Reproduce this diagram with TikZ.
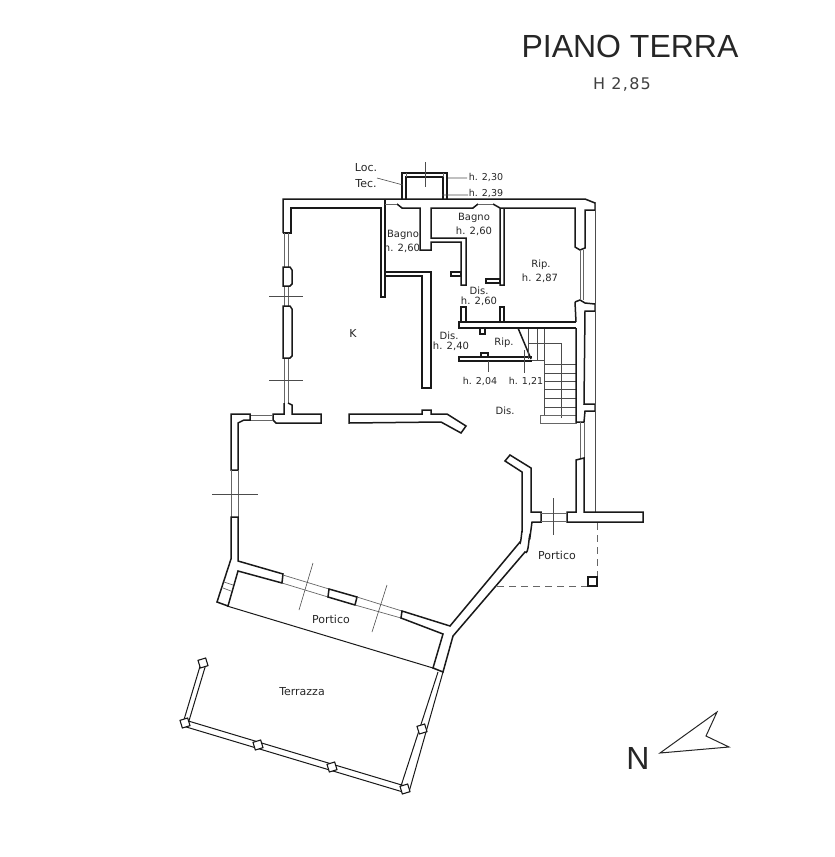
\documentclass[tikz,border=0pt]{standalone}
\usepackage{fontspec}
\setmainfont{Liberation Sans}
\newfontfamily\labfont{DejaVu Sans}
\usetikzlibrary{calc}
\tikzset{
	wall/.style={line width=1.5pt,black!90},
	rail/.style={line width=1pt,black!90},
	thinwall/.style={line width=0.7pt,black!60},
	hair/.style={line width=0.6pt,black!70},
	lab/.style={inner sep=0pt,text=black!85,font=\labfont\fontsize{10}{12}\selectfont},
	tinylab/.style={inner sep=0pt,text=black!85,font=\labfont\fontsize{9.5}{11}\selectfont},
	bigroom/.style={inner sep=0pt,text=black!85,font=\labfont\fontsize{11}{13}\selectfont},
	post/.style={draw=black!90,line width=1.1pt,fill=white,minimum size=8pt,inner sep=0pt,rotate=17},
}
\begin{document}
\begin{tikzpicture}[x=1pt,y=-1pt]
	\useasboundingbox (0,0) rectangle (835,857);
	%%%%% walls top %%%%%
	\draw[wall] (283,233) -- (283,199) -- (585,199) -- (595,203) -- (595,210) -- (585,210) -- (585,248) -- (580,250) -- (575,247) -- (575,208) -- (500,208) -- (500,285) -- (504,285) -- (504,208);
	\draw[wall] (283,233) -- (291,233) -- (291,208) -- (381,208) -- (381,297) -- (385,297) -- (385,200);
	\draw[wall] (385,272) -- (431,272) -- (431,388) -- (422,388) -- (422,276) -- (385,276);
	% bathroom walls
	\draw[wall] (397,204) -- (402,208) -- (420,208) -- (420,250) -- (431,250) -- (431,242) -- (461,242) -- (461,285) -- (466,285) -- (466,238) -- (431,238) -- (431,208) -- (473,208) -- (478,204);
	\draw[wall] (493,204) -- (500,208);
	\draw[thinwall] (385,204) -- (397,204) (478,204) -- (493,204);
	\draw[wall] (451,272) rectangle (461,276);
	\draw[wall] (486,279) rectangle (500,283);
	% technical room
	\draw[wall] (402,199) -- (402,173) -- (447,173) -- (447,199);
	\draw[wall] (406,199) -- (406,177) -- (443,177) -- (443,199);
	\draw[thinwall] (406,173) -- (406,177) (443,173) -- (443,177);
	\draw[hair] (425,162) -- (425,187);
	%%%%% left side %%%%%
	\draw[thinwall] (284,233) -- (284,403) (288,233) -- (288,403);
	\draw[wall,fill=white] (283,267) -- (290,267) -- (292,270) -- (292,284) -- (290,286) -- (283,286) -- cycle;
	\draw[wall,fill=white] (283,306) -- (290,306) -- (292,309) -- (292,356) -- (290,358) -- (283,358) -- cycle;
	\draw[hair] (269,296) -- (303,296) (269,380) -- (303,380);
	\draw[wall] (284,403) -- (284,414) -- (273,414) -- (273,420) -- (276,423) -- (321,423) -- (321,414) -- (292,414) -- (292,405) -- (288,403);
	\draw[thinwall] (250,415) -- (273,415) (250,420) -- (273,420);
	\draw[wall] (231,470) -- (231,414) -- (250,414) -- (250,420) -- (244,420) -- (238,423) -- (238,470) -- cycle;
	\draw[thinwall] (231,470) -- (231,517) (238,470) -- (238,517);
	\draw[hair] (212,494) -- (258,494);
	%%%%% middle wall %%%%%
	\draw[wall] (349,414) -- (422,414) -- (422,410) -- (431,410) -- (431,414) -- (447,414) -- (466,426) -- (461,433) -- (441,422) -- (349,423) -- cycle;
	%%%%% south wall and portico %%%%%
	\draw[wall] (238,517) -- (238,561) -- (283,574) -- (282,583) -- (238,571) -- (228,606) -- (217,602) -- (231,559) -- (231,517) -- cycle;
	\draw[thinwall] (224,582) -- (233,585) (223,588) -- (231,591);
	\draw[thinwall] (283,575) -- (329,589) (282,583) -- (328,597);
	\draw[wall] (329,589) -- (357,597) -- (355,605) -- (328,597) -- cycle;
	\draw[thinwall] (357,597) -- (402,611) (355,605) -- (401,618);
	\draw[wall] (402,611) -- (450,626) -- (520,542) to[out=-80,in=90] (522,532) -- (522,472) -- (505,461) -- (510,455) -- (531,468) -- (531,512) -- (541,512) -- (541,522) -- (532,522) -- (530,537) to[out=100,in=-50] (525,552) -- (453,636) -- (443,672) -- (433,668) -- (443,634) -- (401,618) -- cycle;
	\draw[rail] (227,606) -- (433,668);
	\draw[hair] (313,563) -- (299,610) (387,585) -- (372,632);
	%%%%% terrace %%%%%
	\draw[rail] (443,672) -- (409,792) (438,672) -- (401,786);
	\draw[rail] (185,720) -- (405,786) (183,726) -- (403,792);
	\draw[rail] (201,663) -- (183,723) (206,664) -- (188,724);
	\foreach \i/\x/\y in {a/405/789,b/422/729,c/332/767,d/258/745,e/185/723,f/203/663}
		\node[post] (post\i) at (\x,\y) {};
	%%%%% stairs %%%%%
	\draw[wall] (461,322) -- (461,307) -- (466,307) -- (466,322);
	\draw[wall] (500,322) -- (500,307) -- (504,307) -- (504,322);
	\draw[wall] (576,322) -- (459,322) -- (459,328) -- (576,328);
	\draw[wall] (480,328) rectangle (485,334);
	\draw[wall] (532,357) -- (459,357) -- (459,361) -- (532,361);
	\draw[wall] (481,357) rectangle (488,353);
	\draw[wall] (518,328) -- (531,359);
	\draw[hair] (528,329) -- (528,359) (537,329) -- (537,360) (544,329) -- (544,415) (528,343) -- (561,343) -- (561,418) (532,360) -- (544,360);
	\draw[hair] (488,361) -- (488,372) (524,350) -- (524,373);
	\foreach \y in {364,373,381,389,398,407,415}
		\draw[hair] (544,\y) -- (576,\y);
	\draw[thinwall] (540,415) rectangle (576,423);
	%%%%% east side %%%%%
	\draw[wall] (575,302) -- (580,300) -- (585,303) -- (595,304) -- (595,311) -- (585,311) -- (584,404) -- (595,404) -- (595,411) -- (585,411) -- (584,422) -- (576,422) -- (576,328);
	\draw[wall] (576,322) -- (575,302);
	\draw[thinwall] (580,250) -- (580,300) (583,250) -- (583,300) (580,422) -- (580,458) (584,422) -- (584,458);
	\draw[hair] (595,203) -- (595,512);
	\draw[wall] (576,512) -- (576,460) -- (584,458) -- (584,512) -- (643,512) -- (643,522) -- (567,522) -- (567,512) -- cycle;
	\draw[thinwall] (541,513) -- (567,513) (541,521) -- (567,521);
	\draw[hair] (553,498) -- (553,535);
	\draw[thinwall,dash pattern=on 7pt off 5pt] (597,523) -- (597,577) (588,586) -- (497,586);
	\draw[wall] (588,577) rectangle (597,586);
	%%%%% north arrow %%%%%
	\draw[line width=1pt,black!85] (660,753) -- (717,712) -- (706,736) -- (729,747) -- cycle;
	\draw[hair] (377,178) -- (403,185) (448,178) -- (467,178) (442,195) -- (468,195);
	%%%%% texts %%%%%
	\node[inner sep=0pt,font=\fontsize{32}{36}\selectfont,text=black!85] (title) at (630,46) {PIANO TERRA};
	\node[inner sep=0pt,font=\labfont\fontsize{16}{18}\selectfont\addfontfeature{LetterSpace=8},text=black!75] (height) at (622,84) {H 2,85};
	\node[inner sep=0pt,font=\fontsize{32}{34}\selectfont,text=black!85] (north) at (638,758) {N};
	\node[lab,font=\labfont\fontsize{11}{13}\selectfont] (loc) at (366,168) {Loc.};
	\node[lab,font=\labfont\fontsize{11}{13}\selectfont] (tec) at (366,184) {Tec.};
	\node[tinylab] (htec) at (486,177) {h. 2,30};
	\node[tinylab] (htecb) at (486,193) {h. 2,39};
	\node[lab] (bagnoa) at (474,218) {Bagno};
	\node[lab] (hbagnoa) at (474,231) {h. 2,60};
	\node[lab] (bagnob) at (403,235) {Bagno};
	\node[lab] (hbagnob) at (402,248) {h. 2,60};
	\node[lab] (ripa) at (541,265) {Rip.};
	\node[lab] (hripa) at (540,278) {h. 2,87};
	\node[lab] (disa) at (479,291) {Dis.};
	\node[lab] (hdisa) at (479,301) {h. 2,60};
	\node[lab] (disb) at (449,336) {Dis.};
	\node[lab] (hdisb) at (451,346) {h. 2,40};
	\node[lab] (ripb) at (504,343) {Rip.};
	\node[tinylab] (hripb) at (480,381) {h. 2,04};
	\node[tinylab] (hripc) at (526,381) {h. 1,21};
	\node[lab] (disc) at (505,411) {Dis.};
	\node[bigroom] (kit) at (353,333) {K};
	\node[bigroom] (porta) at (557,555) {Portico};
	\node[bigroom] (portb) at (331,619) {Portico};
	\node[bigroom] (terr) at (302,692) {Terrazza};
\end{tikzpicture}
\end{document}
